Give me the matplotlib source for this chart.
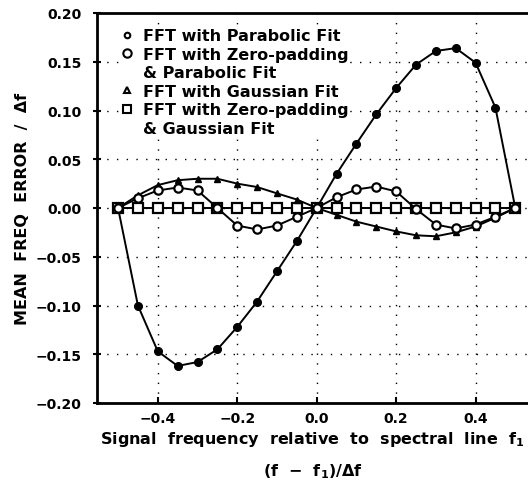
import matplotlib
matplotlib.use("Agg")
import matplotlib.pyplot as plt
from matplotlib.lines import Line2D

plt.rcParams['font.family'] = ['DejaVu Sans']
plt.rcParams['font.weight'] = 'bold'

# signal frequency offset (f - f1)/df
x = [-0.50, -0.45, -0.40, -0.35, -0.30, -0.25, -0.20, -0.15, -0.10, -0.05, 0.00,
     0.05, 0.10, 0.15, 0.20, 0.25, 0.30, 0.35, 0.40, 0.45, 0.50]

# mean frequency error / df
fft_parabolic = [0.0, -0.100, -0.147, -0.162, -0.158, -0.145, -0.122, -0.096, -0.065, -0.034, 0.0,
                 0.035, 0.066, 0.096, 0.123, 0.147, 0.161, 0.164, 0.149, 0.103, 0.0]
zp_parabolic = [0.0, 0.010, 0.018, 0.021, 0.018, 0.000, -0.018, -0.022, -0.018, -0.009, 0.0,
                0.011, 0.019, 0.022, 0.017, -0.001, -0.017, -0.021, -0.017, -0.009, 0.0]
fft_gauss = [0.0, 0.013, 0.0235, 0.0285, 0.030, 0.030, 0.025, 0.0215, 0.015, 0.0087, 0.0,
             -0.007, -0.014, -0.019, -0.024, -0.028, -0.029, -0.025, -0.019, -0.010, 0.0]
zp_gauss = [0.0] * 21

# legend text, one entry per printed line ("&" lines carry no marker)
legend_lines = ["FFT with Parabolic Fit",
                "FFT with Zero-padding",
                "& Parabolic Fit",
                "FFT with Gaussian Fit",
                "FFT with Zero-padding",
                "& Gaussian Fit"]

fig = plt.figure(figsize=(5.28, 4.81), dpi=100)
ax = fig.add_axes([97/528, (481-404)/481, 431/528, 390/481])

lw = 1.4
ax.plot(x, zp_gauss, color='k', lw=lw, marker='s', ms=6.5, mfc='white', mec='k', mew=1.6, zorder=3)
ax.plot(x, fft_gauss, color='k', lw=lw, marker='^', ms=4.5, mfc='k', mec='k', zorder=4)
ax.plot(x, fft_parabolic, color='k', lw=lw, marker='o', ms=5.5, mfc='k', mec='k', zorder=5)
ax.plot(x, zp_parabolic, color='k', lw=lw, marker='o', ms=6, mfc='white', mec='k', mew=1.6, zorder=6)

ax.set_xlim(-0.553, 0.532)
ax.set_ylim(-0.2, 0.2)
ax.set_xticks([-0.4, -0.2, 0.0, 0.2, 0.4])
ax.set_yticks([-0.20, -0.15, -0.10, -0.05, 0.00, 0.05, 0.10, 0.15, 0.20])
ax.set_xticklabels(['\u22120.4', '\u22120.2', '0.0', '0.2', '0.4'])
ax.set_yticklabels(['\u22120.20', '\u22120.15', '\u22120.10', '\u22120.05', '0.00',
                    '0.05', '0.10', '0.15', '0.20'])
ax.tick_params(axis='both', labelsize=10, width=1.5)
ax.tick_params(axis='x', direction='in', length=4, pad=6)
ax.tick_params(axis='y', direction='inout', length=6, pad=8)
ax.grid(True, color='k', linestyle=(0, (1, 6)), linewidth=1.0)

for side in ['left', 'top', 'bottom']:
    ax.spines[side].set_linewidth(2)
ax.spines['right'].set_visible(False)

ax.set_ylabel('MEAN  FREQ  ERROR  /  \u0394f', fontsize=11.5, fontweight='bold', labelpad=4)
ax.set_xlabel('Signal  frequency  relative  to  spectral  line  f$_\\mathbf{1}$\n\n(f  \u2212  f$_\\mathbf{1}$)/\u0394f',
              fontsize=11.5, fontweight='bold', linespacing=0.9, labelpad=3)

blank = Line2D([], [], ls='none', marker='None')
handles = [
    Line2D([], [], ls='none', marker='o', ms=4, mfc='white', mec='k', mew=1.5),
    Line2D([], [], ls='none', marker='o', ms=6, mfc='white', mec='k', mew=1.5),
    blank,
    Line2D([], [], ls='none', marker='^', ms=5, mfc='white', mec='k', mew=1.5),
    Line2D([], [], ls='none', marker='s', ms=6, mfc='white', mec='k', mew=1.5),
    blank,
]
leg = ax.legend(handles, legend_lines, loc='upper left', bbox_to_anchor=(0.05, 0.965),
                frameon=True, facecolor='white', edgecolor='none', framealpha=1,
                fontsize=11.5, handlelength=0.8, handletextpad=0.6,
                labelspacing=0.22, borderpad=0.1, borderaxespad=0)
leg.set_zorder(10)

fig.savefig('out.png', dpi=100)
